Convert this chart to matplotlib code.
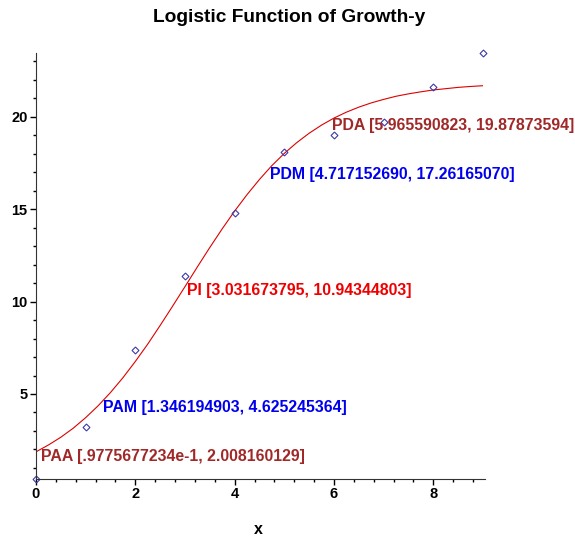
import numpy as np
import matplotlib
matplotlib.use('Agg')
import matplotlib.pyplot as plt
from matplotlib.ticker import MultipleLocator

plt.rcParams['font.family'] = ['Liberation Sans', 'DejaVu Sans']
plt.rcParams['font.weight'] = 'bold'

# measured data (blue diamonds)
x_pts = [0, 1, 2, 3, 4, 5, 6, 7, 8, 9]
y_pts = [0.4, 3.2, 7.4, 11.4, 14.8, 18.1, 19.0, 19.7, 21.6, 23.45]

# logistic curve, every 0.25
x_curve = [0, 0.25, 0.5, 0.75, 1.0, 1.25, 1.5, 1.75, 2.0, 2.25, 2.5, 2.75,
           3.0, 3.25, 3.5, 3.75, 4.0, 4.25, 4.5, 4.75, 5.0, 5.25, 5.5, 5.75,
           6.0, 6.25, 6.5, 6.75, 7.0, 7.25, 7.5, 7.75, 8.0, 8.25, 8.5, 8.75, 9.0]
y_curve = [1.87, 2.24, 2.66, 3.15, 3.72, 4.36, 5.08, 5.88, 6.76, 7.70, 8.71, 9.75,
           10.81, 11.88, 12.93, 13.94, 14.90, 15.79, 16.61, 17.36, 18.02, 18.60, 19.11, 19.55,
           19.93, 20.25, 20.52, 20.75, 20.94, 21.11, 21.24, 21.35, 21.45, 21.52, 21.59, 21.64, 21.68]

# characteristic points
pt_names = ['PAA', 'PAM', 'PI', 'PDM', 'PDA']
pt_x = [0.09775677234, 1.346194903, 3.031673795, 4.717152690, 5.965590823]
pt_y = [2.008160129, 4.625245364, 10.94344803, 17.26165070, 19.87873594]
pt_txt = ['PAA [.9775677234e-1, 2.008160129]',
          'PAM [1.346194903, 4.625245364]',
          'PI [3.031673795, 10.94344803]',
          'PDM [4.717152690, 17.26165070]',
          'PDA [5.965590823, 19.87873594]']
pt_col = ['#a02828', '#0000ee', '#ee0000', '#0000ee', '#a02828']

fig = plt.figure(figsize=(5.75, 5.37), dpi=100)
ax = fig.add_axes([36/575, 58/537, 447/575, 426/537])

ax.plot(x_curve, y_curve, color='#dd0000', lw=0.8)
ax.plot(x_pts, y_pts, linestyle='none', marker='D', markersize=3.5,
        markerfacecolor='none', markeredgecolor='#3a3aa8', markeredgewidth=0.8,
        clip_on=False)

for name, px, py, txt, c in zip(pt_names, pt_x, pt_y, pt_txt, pt_col):
    ax.annotate(txt, (px, py), xytext=(0, 0.5), textcoords='offset points',
                ha='left', va='top', color=c, fontsize=11.4, fontweight='bold',
                annotation_clip=False)

ax.set_xlim(0, 9)
ax.set_ylim(0.4, 23.45)
for s in ['top', 'right']:
    ax.spines[s].set_visible(False)
ax.spines['left'].set_color('#333333')
ax.spines['bottom'].set_color('#333333')
ax.spines['bottom'].set_bounds(0, 9.05)

ax.xaxis.set_major_locator(MultipleLocator(2))
ax.xaxis.set_minor_locator(MultipleLocator(0.4))
ax.yaxis.set_major_locator(MultipleLocator(5))
ax.yaxis.set_minor_locator(MultipleLocator(1))
ax.tick_params(which='major', length=4, width=1, labelsize=10.5, pad=2)
ax.tick_params(which='minor', length=2.5, width=1)
for lab in ax.get_xticklabels() + ax.get_yticklabels():
    lab.set_fontweight('bold')

fig.text(0.503, 1 - 18/537, 'Logistic Function of Growth-y', ha='center', va='center',
         fontsize=13.8, fontweight='bold')
fig.text(258/575, 1 - 529/537, 'x', ha='center', va='center', fontsize=11.5, fontweight='bold')

fig.savefig('out.png', dpi=100)
